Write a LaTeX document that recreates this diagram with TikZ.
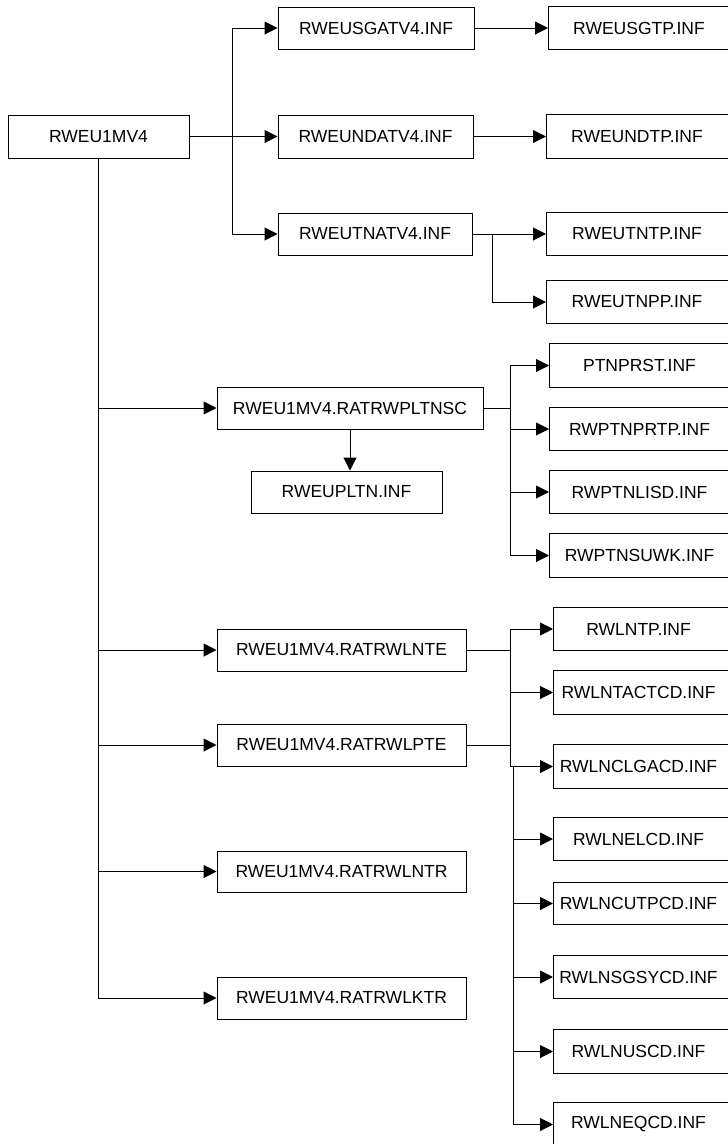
\documentclass[tikz,border=0pt]{standalone}
\usepackage{fontspec}
\setmainfont{Liberation Sans}
\usetikzlibrary{arrows.meta}

\begin{document}
\begin{tikzpicture}[x=1pt, y=-1pt, line width=1pt,
  font=\fontsize{17.5}{20}\selectfont,
  box/.style={draw, rectangle, inner sep=0pt, minimum height=42pt, fill=white},
  % boxes that run past the right edge of the sheet: text centred on the
  % node, frame drawn separately so that it continues to the right
  cutbox/.style={rectangle, inner sep=0pt, anchor=west, minimum height=42pt, minimum width=#1},
  arr/.style={-{Triangle[length=13pt,width=13pt]}}]

\fill[white] (0,0) rectangle (728,1144);
\useasboundingbox (0,0) rectangle (728,1144);

% ---- top level
\node[box, minimum width=181pt, minimum height=43pt] (root) at (98.5,136.5) {RWEU1MV4};

% ---- first group
\node[box, minimum width=196pt] (usgatv4) at (376,28) {RWEUSGATV4.INF};
\node[box, minimum width=195pt, minimum height=43pt] (undatv4) at (375.5,136.5) {RWEUNDATV4.INF};
\node[box, minimum width=194pt] (utnatv4) at (375,234) {RWEUTNATV4.INF};

\node[cutbox=181pt] (usgtp) at (548,28) {RWEUSGTP.INF};
\node[cutbox=181pt, minimum height=43pt] (undtp) at (546,136.5) {RWEUNDTP.INF};
\node[cutbox=181pt] (utntp) at (546,234) {RWEUTNTP.INF};
\node[cutbox=181pt] (utnpp) at (546,302) {RWEUTNPP.INF};

% ---- PLTNSC group
\node[box, minimum width=266pt] (pltnsc) at (350,408) {RWEU1MV4.RATRWPLTNSC};
\node[box, minimum width=191pt] (upltn) at (346.5,492) {RWEUPLTN.INF};

\node[cutbox=180pt, minimum height=43pt] (ptnprst) at (549,365.5) {PTNPRST.INF};
\node[cutbox=180pt] (rwptnprtp) at (549,429) {RWPTNPRTP.INF};
\node[cutbox=180pt] (rwptnlisd) at (549,492) {RWPTNLISD.INF};
\node[cutbox=180pt, minimum height=43pt] (rwptnsuwk) at (549,555.5) {RWPTNSUWK.INF};

% ---- line groups
\node[box, minimum width=249pt] (lnte) at (341.5,650) {RWEU1MV4.RATRWLNTE};
\node[box, minimum width=249pt] (lpte) at (341.5,745) {RWEU1MV4.RATRWLPTE};
\node[box, minimum width=249pt, minimum height=41pt] (lntr) at (341.5,871.5) {RWEU1MV4.RATRWLNTR};
\node[box, minimum width=249pt] (lktr) at (341.5,998) {RWEU1MV4.RATRWLKTR};

\node[cutbox=170pt] (rwlntp) at (553,629) {RWLNTP.INF};
\node[cutbox=170pt, minimum height=43pt] (rwlntactcd) at (553,692.5) {RWLNTACTCD.INF};
\node[cutbox=170pt, minimum height=43pt] (rwlnclgacd) at (553,766.5) {RWLNCLGACD.INF};
\node[cutbox=170pt] (rwlnelcd) at (553,839) {RWLNELCD.INF};
\node[cutbox=170pt, minimum height=41pt] (rwlncutpcd) at (553,903.5) {RWLNCUTPCD.INF};
\node[cutbox=170pt] (rwlnsgsycd) at (553,977) {RWLNSGSYCD.INF};
\node[cutbox=170pt, minimum height=43pt] (rwlnuscd) at (553,1051.5) {RWLNUSCD.INF};
\node[cutbox=170pt, minimum height=43pt] (rwlneqcd) at (553,1124.5) {RWLNEQCD.INF};

% frames of the right-hand boxes, open towards the sheet edge
\foreach \n in {usgtp,undtp,utntp,utnpp,ptnprst,rwptnprtp,rwptnlisd,rwptnsuwk,
                rwlntp,rwlntactcd,rwlnclgacd,rwlnelcd,rwlncutpcd,rwlnsgsycd,rwlnuscd,rwlneqcd}
  \draw ([xshift=200pt]\n.north west) -| (\n.south west) -- ++(200pt,0);

% ---- branch points
\coordinate (b1) at (232,136.5);
\coordinate (b2) at (492,234);
\coordinate (b3) at (510,408);
\coordinate (b4) at (510,650);
\coordinate (b5) at (513,766.5);

% ---- connectors: first group
\draw[arr] (root.east) -- (undatv4.west);
\draw[arr] (b1) |- (usgatv4.west);
\draw[arr] (b1) |- (utnatv4.west);
\draw[arr] (usgatv4.east) -- (usgtp.west);
\draw[arr] (undatv4.east) -- (undtp.west);
\draw[arr] (utnatv4.east) -- (utntp.west);
\draw[arr] (b2) |- (utnpp.west);

% ---- connectors: main trunk
\draw[arr] (root.south) |- (lktr.west);
\draw[arr] (root.south |- pltnsc.west) -- (pltnsc.west);
\draw[arr] (root.south |- lnte.west) -- (lnte.west);
\draw[arr] (root.south |- lpte.west) -- (lpte.west);
\draw[arr] (root.south |- lntr.west) -- (lntr.west);

% ---- connectors: PLTNSC group
\draw[arr] (pltnsc.south) -- (pltnsc.south |- upltn.north);
\draw (pltnsc.east) -- (b3);
\draw[arr] (b3) |- (ptnprst.west);
\draw[arr] (b3) |- (rwptnprtp.west);
\draw[arr] (b3) |- (rwptnlisd.west);
\draw[arr] (b3) |- (rwptnsuwk.west);

% ---- connectors: line groups
\draw (lnte.east) -- (b4);
\draw (lpte.east) -- (lpte.east -| b4);
\draw[arr] (b4) |- (rwlntp.west);
\draw[arr] (b4) |- (rwlntactcd.west);
\draw[arr] (b4) |- (rwlnclgacd.west);
\draw[arr] (b5) |- (rwlnelcd.west);
\draw[arr] (b5) |- (rwlncutpcd.west);
\draw[arr] (b5) |- (rwlnsgsycd.west);
\draw[arr] (b5) |- (rwlnuscd.west);
\draw[arr] (b5) |- (rwlneqcd.west);
\end{tikzpicture}
\end{document}
